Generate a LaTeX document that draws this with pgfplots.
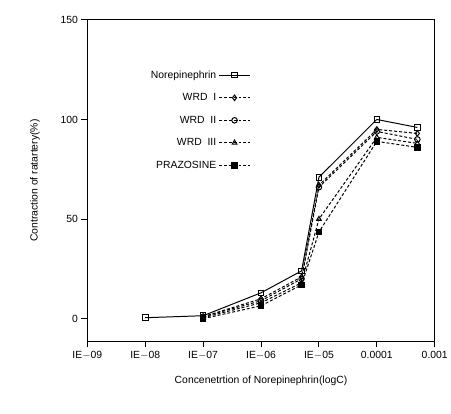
\documentclass[border=0pt]{standalone}
\usepackage{fontspec}
\setmainfont{Liberation Sans}
\usepackage{pgfplots}
\pgfplotsset{compat=1.18}
\begin{document}
\begin{tikzpicture}[x=1bp,y=1bp]
% page frame to keep the reference proportions
\path (-88,-73) rectangle (363,344);
\begin{axis}[
    at={(0,0)}, anchor=south west,
    scale only axis,
    width=350bp, height=324bp,
    xmin=-9, xmax=-3,
    ymin=-11.4, ymax=150,
    xtick={-9,-8,-7,-6,-5,-4,-3},
    xticklabels={IE$-$09,IE$-$08,IE$-$07,IE$-$06,IE$-$05,0.0001,0.001},
    ytick={0,50,100,150},
    xtick pos=bottom, ytick pos=left,
    tick align=outside,
    major tick length=6bp,
    axis line style={line width=1.1pt},
    tick style={line width=0.9pt, black},
    tick label style={font=\fontsize{10.5}{12}\selectfont},
    /pgf/number format/assume math mode=true,
    xlabel={Concenetrtion of Norepinephrin(logC)},
    ylabel={Contraction of ratartery(\%)},
    label style={font=\fontsize{10.5}{12}\selectfont},
    xlabel style={yshift=-10bp},
    ylabel style={yshift=14bp},
    legend plot pos=right,
    legend cell align=right,
    legend style={
        draw=none, fill=none,
        font=\fontsize{10.5}{12}\selectfont,
        at={(0.48,0.855)}, anchor=north east,
        row sep=10bp,
        /tikz/every even column/.append style={column sep=7bp},
    },
    legend image code/.code={
        \draw[#1, mark=none] (0bp,0bp) -- (32bp,0bp);
        \draw[#1, only marks] plot coordinates {(16bp,0bp)};
    },
    every axis plot/.append style={line width=1pt, mark size=2.8pt},
]
\addplot[black, solid, mark=square, mark options={solid, fill=white}]
coordinates {(-8,0.5) (-7,1.5) (-6,13) (-5.3,24) (-5,71) (-4,100) (-3.3,96)};
\addlegendentry{Norepinephrin}

\addplot[black, dash pattern=on 3bp off 2bp, mark=diamond, mark options={solid, fill=white}]
coordinates {(-7,1) (-6,10) (-5.3,21) (-5,67) (-4,95) (-3.3,93)};
\addlegendentry{WRD\ \ I}

\addplot[black, dash pattern=on 3bp off 2bp, mark=o, mark options={solid, fill=white}]
coordinates {(-7,1) (-6,9) (-5.3,20) (-5,66) (-4,94) (-3.3,90)};
\addlegendentry{WRD\ \ II}

\addplot[black, dash pattern=on 3bp off 2bp, mark=triangle, mark options={solid, fill=white}]
coordinates {(-7,0.5) (-6,8) (-5.3,18) (-5,50) (-4,91) (-3.3,88)};
\addlegendentry{WRD\ \ III}

\addplot[black, dash pattern=on 3bp off 2bp, mark=square*, mark options={solid, fill=black}]
coordinates {(-7,0) (-6,6.5) (-5.3,17) (-5,43.5) (-4,89) (-3.3,86)};
\addlegendentry{PRAZOSINE}
\end{axis}
\end{tikzpicture}
\end{document}
